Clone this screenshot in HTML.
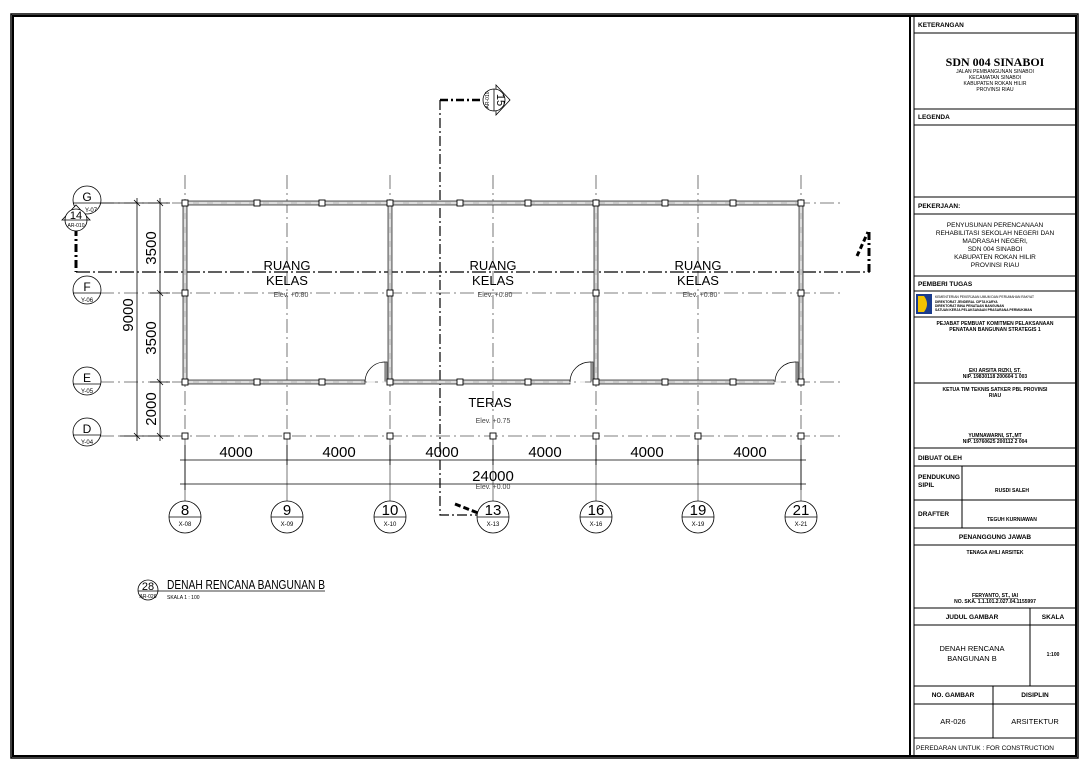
<!DOCTYPE html>
<html><head><meta charset="utf-8"><style>
html,body{margin:0;padding:0;background:#fff;}
svg{display:block;font-family:"Liberation Sans",sans-serif;}
</style></head><body>
<svg width="1087" height="768" viewBox="0 0 1087 768" xmlns="http://www.w3.org/2000/svg">
<rect x="0" y="0" width="1087" height="768" fill="#fff"/>
<rect x="11" y="14" width="1067" height="744" fill="none" stroke="#000" stroke-width="1.5"/>
<rect x="13" y="16" width="1063" height="740" fill="none" stroke="#000" stroke-width="2"/>
<line x1="910" y1="15" x2="910" y2="757" stroke="#000" stroke-width="2"/>
<line x1="914" y1="15" x2="914" y2="757" stroke="#000" stroke-width="1"/>

<g stroke="#555" stroke-width="0.8" stroke-dasharray="14,4,2,4" fill="none">
<line x1="100" y1="203" x2="840" y2="203"/>
<line x1="100" y1="293" x2="840" y2="293"/>
<line x1="100" y1="382" x2="840" y2="382"/>
<line x1="100" y1="436" x2="840" y2="436"/>
<line x1="185" y1="175" x2="185" y2="440"/>
<line x1="287" y1="175" x2="287" y2="440"/>
<line x1="390" y1="175" x2="390" y2="440"/>
<line x1="493" y1="175" x2="493" y2="440"/>
<line x1="596" y1="175" x2="596" y2="440"/>
<line x1="698" y1="175" x2="698" y2="440"/>
<line x1="801" y1="175" x2="801" y2="440"/>
</g>
<g stroke="#555" stroke-width="0.8">
<line x1="185" y1="440" x2="185" y2="501"/><line x1="287" y1="440" x2="287" y2="501"/>
<line x1="390" y1="440" x2="390" y2="501"/><line x1="493" y1="440" x2="493" y2="501"/>
<line x1="596" y1="440" x2="596" y2="501"/><line x1="698" y1="440" x2="698" y2="501"/>
<line x1="801" y1="440" x2="801" y2="501"/>
</g>

<g stroke="#000" fill="none">
<path d="M76 228 L76 272" stroke-width="3" stroke-dasharray="8,3,2,3"/>
<path d="M869 272 L869 232" stroke-width="3" stroke-dasharray="8,3,2,3"/>
<path d="M76 272 L870 272" stroke-width="1.2" stroke-dasharray="14,3,2,3"/>
<path d="M440 100 L440 515 L480 515" stroke-width="1.2" stroke-dasharray="10,3,2,3"/>
<path d="M440 100 L483 100" stroke-width="2.5" stroke-dasharray="8,3,2,3"/>
<path d="M455 504 L478 513" stroke-width="3" stroke-dasharray="6,3"/>
<path d="M857 256 L868 232" stroke-width="3" stroke-dasharray="5,3"/>
</g>

<g fill="#c8c8c8" stroke="#333" stroke-width="0.8">
<rect x="185" y="201" width="616" height="4"/>
<rect x="185" y="380" width="180" height="4"/>
<rect x="390" y="380" width="180" height="4"/>
<rect x="596" y="380" width="178" height="4"/>
<rect x="183" y="203" width="4" height="179"/>
<rect x="388" y="203" width="4" height="179"/>
<rect x="594" y="203" width="4" height="179"/>
<rect x="799" y="203" width="4" height="179"/>
<rect x="385" y="362" width="2" height="20"/>
<rect x="591" y="362" width="2" height="20"/>
<rect x="796" y="362" width="2" height="20"/>
</g>
<g stroke="#fff" stroke-width="0.8" stroke-dasharray="8,6">
<line x1="185" y1="203" x2="801" y2="203"/>
<line x1="185" y1="382" x2="801" y2="382"/>
<line x1="185" y1="205" x2="185" y2="380"/><line x1="390" y1="205" x2="390" y2="380"/>
<line x1="596" y1="205" x2="596" y2="380"/><line x1="801" y1="205" x2="801" y2="380"/>
</g>
<g fill="none" stroke="#000" stroke-width="0.7">
<path d="M365 382 A20 20 0 0 1 385 362"/>
<path d="M570 382 A20 20 0 0 1 591 362"/>
<path d="M775 382 A20 20 0 0 1 796 362"/>
</g>
<g fill="#fff" stroke="#000" stroke-width="0.9">
<rect x="182" y="200" width="6" height="6"/><rect x="254" y="200" width="6" height="6"/><rect x="319" y="200" width="6" height="6"/><rect x="387" y="200" width="6" height="6"/>
<rect x="457" y="200" width="6" height="6"/><rect x="525" y="200" width="6" height="6"/><rect x="593" y="200" width="6" height="6"/>
<rect x="662" y="200" width="6" height="6"/><rect x="730" y="200" width="6" height="6"/><rect x="798" y="200" width="6" height="6"/>
<rect x="182" y="290" width="6" height="6"/><rect x="387" y="290" width="6" height="6"/><rect x="593" y="290" width="6" height="6"/><rect x="798" y="290" width="6" height="6"/>
<rect x="182" y="379" width="6" height="6"/><rect x="254" y="379" width="6" height="6"/><rect x="319" y="379" width="6" height="6"/><rect x="387" y="379" width="6" height="6"/>
<rect x="457" y="379" width="6" height="6"/><rect x="525" y="379" width="6" height="6"/><rect x="593" y="379" width="6" height="6"/>
<rect x="662" y="379" width="6" height="6"/><rect x="730" y="379" width="6" height="6"/><rect x="798" y="379" width="6" height="6"/>
<rect x="182" y="433" width="6" height="6"/><rect x="284" y="433" width="6" height="6"/><rect x="387" y="433" width="6" height="6"/><rect x="490" y="433" width="6" height="6"/>
<rect x="593" y="433" width="6" height="6"/><rect x="695" y="433" width="6" height="6"/><rect x="798" y="433" width="6" height="6"/>
</g>

<g font-size="13" text-anchor="middle" fill="#000">
<text x="287" y="270">RUANG</text><text x="287" y="285">KELAS</text>
<text x="493" y="270">RUANG</text><text x="493" y="285">KELAS</text>
<text x="698" y="270">RUANG</text><text x="698" y="285">KELAS</text>
<text x="490" y="407">TERAS</text>
</g>
<g font-size="7" text-anchor="middle" fill="#444">
<text x="291" y="297">Elev. +0.80</text><text x="495" y="297">Elev. +0.80</text><text x="700" y="297">Elev. +0.80</text>
<text x="493" y="423">Elev. +0.75</text><text x="493" y="489">Elev. +0.00</text>
</g>

<g stroke="#000" stroke-width="0.8">
<line x1="137" y1="198" x2="137" y2="441"/>
<line x1="160" y1="198" x2="160" y2="441"/>
<line x1="120" y1="203" x2="170" y2="203"/>
<line x1="150" y1="293" x2="170" y2="293"/>
<line x1="150" y1="382" x2="170" y2="382"/>
<line x1="120" y1="436" x2="170" y2="436"/>
<line x1="134" y1="200" x2="140" y2="206"/><line x1="157" y1="200" x2="163" y2="206"/>
<line x1="157" y1="290" x2="163" y2="296"/><line x1="157" y1="379" x2="163" y2="385"/>
<line x1="134" y1="433" x2="140" y2="439"/><line x1="157" y1="433" x2="163" y2="439"/>
<line x1="180" y1="460" x2="806" y2="460"/>
<line x1="180" y1="484" x2="806" y2="484"/>
<line x1="185" y1="445" x2="185" y2="490"/><line x1="287" y1="445" x2="287" y2="465"/>
<line x1="390" y1="445" x2="390" y2="465"/><line x1="493" y1="445" x2="493" y2="465"/>
<line x1="596" y1="445" x2="596" y2="465"/><line x1="698" y1="445" x2="698" y2="465"/>
<line x1="801" y1="445" x2="801" y2="490"/>
</g>
<g font-size="15" fill="#000" text-anchor="middle">
<text transform="translate(133,315) rotate(-90)">9000</text>
<text transform="translate(156,248) rotate(-90)">3500</text>
<text transform="translate(156,338) rotate(-90)">3500</text>
<text transform="translate(156,409) rotate(-90)">2000</text>
<text x="236" y="457">4000</text><text x="339" y="457">4000</text><text x="442" y="457">4000</text>
<text x="545" y="457">4000</text><text x="647" y="457">4000</text><text x="750" y="457">4000</text>
<text x="493" y="481">24000</text>
</g>

<g fill="#fff" stroke="#000" stroke-width="0.8">
<circle cx="87" cy="200" r="14"/><circle cx="87" cy="290" r="14"/><circle cx="87" cy="381" r="14"/><circle cx="87" cy="432" r="14"/>
<line x1="73" y1="203" x2="120" y2="203"/><line x1="73" y1="293" x2="101" y2="293"/><line x1="73" y1="384" x2="101" y2="384"/><line x1="73" y1="435" x2="101" y2="435"/>
</g>
<g font-size="12" text-anchor="middle">
<text x="87" y="201">G</text><text x="87" y="291">F</text><text x="87" y="382">E</text><text x="87" y="433">D</text>
</g>
<g font-size="6" text-anchor="middle">
<text x="91" y="212">Y-07</text><text x="87" y="302">Y-06</text><text x="87" y="393">Y-05</text><text x="87" y="444">Y-04</text>
</g>
<path d="M62 220 L76 205 L90 220 Z" fill="#fff" stroke="#000" stroke-width="0.8"/>
<circle cx="76" cy="220" r="11" fill="#fff" stroke="#000" stroke-width="0.8"/>
<line x1="65" y1="220" x2="87" y2="220" stroke="#000" stroke-width="0.8"/>
<text x="76" y="219" font-size="11" text-anchor="middle">14</text>
<text x="76" y="227" font-size="5" text-anchor="middle">AR-010</text>
<path d="M496 85 L510 100 L496 115 Z" fill="#fff" stroke="#000" stroke-width="0.8"/>
<circle cx="494" cy="100" r="11" fill="#fff" stroke="#000" stroke-width="0.8"/>
<line x1="494" y1="89" x2="494" y2="111" stroke="#000" stroke-width="0.8"/>
<text transform="translate(497,100) rotate(90)" font-size="11" text-anchor="middle">15</text>
<text transform="translate(489,100) rotate(-90)" font-size="5" text-anchor="middle">AR-010</text>

<g fill="#fff" stroke="#000" stroke-width="0.8">
<circle cx="185" cy="517" r="16"/><circle cx="287" cy="517" r="16"/><circle cx="390" cy="517" r="16"/>
<circle cx="493" cy="517" r="16"/><circle cx="596" cy="517" r="16"/><circle cx="698" cy="517" r="16"/><circle cx="801" cy="517" r="16"/>
<line x1="169" y1="517" x2="201" y2="517"/><line x1="271" y1="517" x2="303" y2="517"/><line x1="374" y1="517" x2="406" y2="517"/>
<line x1="477" y1="517" x2="509" y2="517"/><line x1="580" y1="517" x2="612" y2="517"/><line x1="682" y1="517" x2="714" y2="517"/><line x1="785" y1="517" x2="817" y2="517"/>
</g>
<g font-size="15" text-anchor="middle">
<text x="185" y="515">8</text><text x="287" y="515">9</text><text x="390" y="515">10</text><text x="493" y="515">13</text>
<text x="596" y="515">16</text><text x="698" y="515">19</text><text x="801" y="515">21</text>
</g>
<g font-size="6" text-anchor="middle">
<text x="185" y="526">X-08</text><text x="287" y="526">X-09</text><text x="390" y="526">X-10</text><text x="493" y="526">X-13</text>
<text x="596" y="526">X-16</text><text x="698" y="526">X-19</text><text x="801" y="526">X-21</text>
</g>

<circle cx="148" cy="590" r="10" fill="#fff" stroke="#000" stroke-width="0.8"/>
<line x1="138" y1="591" x2="325" y2="591" stroke="#000" stroke-width="0.8"/>
<text x="148" y="590" font-size="11" text-anchor="middle">28</text>
<text x="148" y="598" font-size="5" text-anchor="middle">AR-026</text>
<text x="167" y="589" font-size="13" textLength="158" lengthAdjust="spacingAndGlyphs">DENAH RENCANA BANGUNAN B</text>
<text x="167" y="599" font-size="5">SKALA    1 : 100</text>

<g stroke="#000" stroke-width="1" fill="none">
<line x1="914" y1="33" x2="1076" y2="33"/>
<line x1="914" y1="109" x2="1076" y2="109"/><line x1="914" y1="125" x2="1076" y2="125"/>
<line x1="914" y1="197" x2="1076" y2="197"/><line x1="914" y1="214" x2="1076" y2="214"/>
<line x1="914" y1="276" x2="1076" y2="276"/><line x1="914" y1="291" x2="1076" y2="291"/>
<line x1="914" y1="317" x2="1076" y2="317"/><line x1="914" y1="383" x2="1076" y2="383"/>
<line x1="914" y1="448" x2="1076" y2="448"/><line x1="914" y1="466" x2="1076" y2="466"/>
<line x1="914" y1="500" x2="1076" y2="500"/><line x1="914" y1="528" x2="1076" y2="528"/>
<line x1="914" y1="545" x2="1076" y2="545"/><line x1="914" y1="608" x2="1076" y2="608"/>
<line x1="914" y1="625" x2="1076" y2="625"/><line x1="914" y1="686" x2="1076" y2="686"/>
<line x1="914" y1="704" x2="1076" y2="704"/><line x1="914" y1="738" x2="1076" y2="738"/>
<line x1="962" y1="466" x2="962" y2="528"/>
<line x1="1030" y1="608" x2="1030" y2="686"/>
<line x1="993" y1="686" x2="993" y2="738"/>
</g>
<g font-size="6.5" font-weight="bold" fill="#000">
<text x="918" y="27">KETERANGAN</text>
<text x="918" y="119">LEGENDA</text>
<text x="918" y="208">PEKERJAAN:</text>
<text x="918" y="286">PEMBERI  TUGAS</text>
<text x="918" y="460">DIBUAT  OLEH</text>
<text x="918" y="479">PENDUKUNG</text><text x="918" y="487">SIPIL</text>
<text x="918" y="516">DRAFTER</text>
</g>
<text x="995" y="66" font-family="Liberation Serif,serif" font-size="12" font-weight="bold" text-anchor="middle">SDN 004 SINABOI</text>
<g font-size="5" text-anchor="middle">
<text x="995" y="73">JALAN PEMBANGUNAN SINABOI</text><text x="995" y="79">KECAMATAN SINABOI</text>
<text x="995" y="85">KABUPATEN ROKAN HILIR</text><text x="995" y="91">PROVINSI RIAU</text>
</g>
<g font-size="6.5" text-anchor="middle">
<text x="995" y="227">PENYUSUNAN PERENCANAAN</text><text x="995" y="235">REHABILITASI SEKOLAH NEGERI DAN</text>
<text x="995" y="243">MADRASAH NEGERI,</text><text x="995" y="251">SDN 004 SINABOI</text>
<text x="995" y="259">KABUPATEN  ROKAN HILIR</text><text x="995" y="267">PROVINSI RIAU</text>
</g>
<rect x="916" y="294" width="16" height="20" fill="#1a3b8c"/>
<path d="M918 296 L924 296 Q930 304 924 312 L918 312 Z" fill="#f2c200"/>
<g font-size="3.3">
<text x="935" y="298">KEMENTERIAN PEKERJAAN UMUM DAN PERUMAHAN RAKYAT</text>
<text x="935" y="303" font-weight="bold">DIREKTORAT JENDERAL CIPTA KARYA</text>
<text x="935" y="307" font-weight="bold">DIREKTORAT BINA PENATAAN BANGUNAN</text>
<text x="935" y="311" font-weight="bold">SATUAN KERJA PELAKSANAAN PRASARANA PERMUKIMAN</text>
</g>
<g font-size="5" font-weight="bold" text-anchor="middle">
<text x="995" y="325">PEJABAT  PEMBUAT  KOMITMEN  PELAKSANAAN</text>
<text x="995" y="331">PENATAAN  BANGUNAN  STRATEGIS  1</text>
<text x="995" y="372" text-decoration="underline">EKI  ARSITA  RIZKI,  ST.</text>
<text x="995" y="378">NIP.  19830118  200604  1  003</text>
<text x="995" y="391">KETUA  TIM  TEKNIS  SATKER  PBL  PROVINSI</text>
<text x="995" y="397">RIAU</text>
<text x="995" y="437" text-decoration="underline">YUMNAWARNI,  ST.,MT</text>
<text x="995" y="443">NIP.  19760625  200112  2  004</text>
<text x="1012" y="492">RUSDI  SALEH</text>
<text x="1012" y="521">TEGUH  KURNIAWAN</text>
<text x="995" y="554">TENAGA  AHLI  ARSITEK</text>
<text x="995" y="597" text-decoration="underline">FERYANTO,  ST.,  IAI</text>
<text x="995" y="603">NO.  SKA.  1.1.101.2.027.04.1155997</text>
<text x="1053" y="656">1:100</text>
</g>
<g font-size="6.5" font-weight="bold" text-anchor="middle">
<text x="995" y="539">PENANGGUNG  JAWAB</text>
<text x="972" y="619">JUDUL  GAMBAR</text>
<text x="1053" y="619">SKALA</text>
<text x="953" y="697">NO.  GAMBAR</text>
<text x="1035" y="697">DISIPLIN</text>
</g>
<g font-size="7.5" text-anchor="middle">
<text x="972" y="651">DENAH RENCANA</text><text x="972" y="661">BANGUNAN B</text>
<text x="953" y="724">AR-026</text><text x="1035" y="724">ARSITEKTUR</text>
</g>
<text x="916" y="750" font-size="6.5">PEREDARAN UNTUK :     FOR CONSTRUCTION</text>
</svg>
</body></html>
